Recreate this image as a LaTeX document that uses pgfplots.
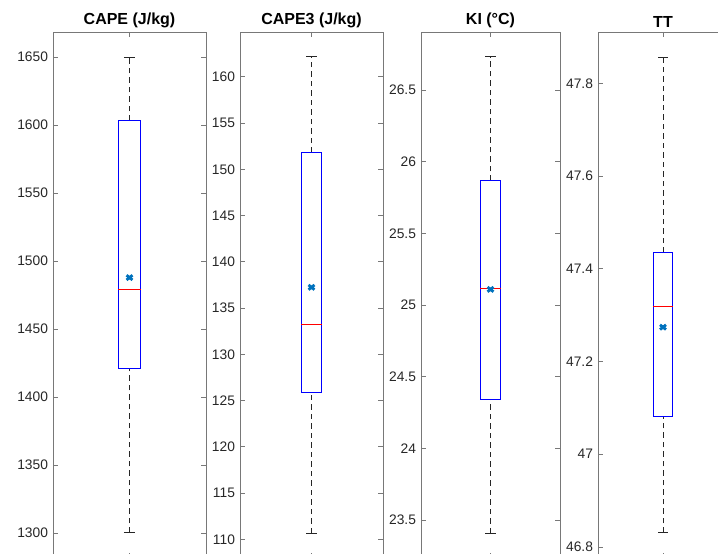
\documentclass[border=0pt]{standalone}
\usepackage{fontspec}
\setmainfont{Liberation Sans}
\usepackage{pgfplots}
\pgfplotsset{compat=1.18}
\definecolor{meanblue}{RGB}{0,114,189}
\definecolor{axgray}{RGB}{120,120,120}
\definecolor{txt}{RGB}{38,38,38}
\pgfplotsset{
  mybox/.style={
    scale only axis,
    anchor=south west,
    height=526pt,
    xmin=0.5, xmax=1.5,
    xtick={1}, xticklabels={},
    tick align=inside,
    major tick length=5pt,
    axis line style={axgray, line width=0.8pt},
    tick style={axgray, line width=0.7pt},
    ytick pos=both, xtick pos=both,
    scaled y ticks=false,
    /pgf/number format/assume math mode=true,
    /pgf/number format/1000 sep={},
    /pgf/number format/fixed,
    yticklabel style={font=\fontsize{13.8}{16}\selectfont, text=txt, xshift=-1.5pt},
    title style={font=\fontsize{16}{19}\selectfont\bfseries, text=black, yshift=-5.5pt},
    clip=false,
  },
  whisk/.style={black!85, line width=1pt, dash pattern=on 5.5pt off 4pt},
  cap/.style={black!85, line width=1pt},
  boxs/.style={blue, line width=1pt},
  meds/.style={red, line width=1pt},
  means/.style={only marks, mark=x, mark size=4.2pt, mark options={meanblue, line width=2.8pt, yscale=0.8}},
}
\begin{document}
\begin{tikzpicture}[x=1pt,y=1pt]
\useasboundingbox (0,0) rectangle (718,554);
\clip (0,0) rectangle (718,554);

% CAPE
\begin{axis}[mybox, at={(53pt,-4pt)}, width=153pt,
  ymin=1281.6, ymax=1668.4, ytick={1300,1350,1400,1450,1500,1550,1600,1650},
  title={CAPE (J/kg)}]
\addplot[whisk] coordinates {(1,1603) (1,1650)};
\addplot[whisk] coordinates {(1,1300) (1,1421.3)};
\addplot[cap] coordinates {(0.964,1650) (1.036,1650)};
\addplot[cap] coordinates {(0.964,1300) (1.036,1300)};
\addplot[boxs] coordinates {(0.928,1421.3) (1.072,1421.3) (1.072,1603) (0.928,1603)} -- cycle;
\addplot[meds] coordinates {(0.928,1479.4) (1.072,1479.4)};
\addplot[means] coordinates {(1,1487.8)};
\end{axis}

% CAPE3
\begin{axis}[mybox, at={(240pt,-4pt)}, width=143pt,
  ymin=107.98, ymax=164.84, ytick={110,115,120,125,130,135,140,145,150,155,160},
  title={CAPE3 (J/kg)}]
\addplot[whisk] coordinates {(1,151.79) (1,162.14)};
\addplot[whisk] coordinates {(1,110.68) (1,125.85)};
\addplot[cap] coordinates {(0.963,162.14) (1.037,162.14)};
\addplot[cap] coordinates {(0.963,110.68) (1.037,110.68)};
\addplot[boxs] coordinates {(0.927,125.85) (1.073,125.85) (1.073,151.79) (0.927,151.79)} -- cycle;
\addplot[meds] coordinates {(0.927,133.24) (1.073,133.24)};
\addplot[means] coordinates {(1,137.24)};
\end{axis}

% KI
\begin{axis}[mybox, at={(421pt,-4pt)}, width=139pt,
  ymin=23.236, ymax=26.904, ytick={23.5,24,24.5,25,25.5,26,26.5},
  title={KI (°C)}]
\addplot[whisk] coordinates {(1,25.865) (1,26.73)};
\addplot[whisk] coordinates {(1,23.41) (1,24.343)};
\addplot[cap] coordinates {(0.962,26.73) (1.038,26.73)};
\addplot[cap] coordinates {(0.962,23.41) (1.038,23.41)};
\addplot[boxs] coordinates {(0.9245,24.343) (1.0755,24.343) (1.0755,25.865) (0.9245,25.865)} -- cycle;
\addplot[meds] coordinates {(0.9245,25.116) (1.0755,25.116)};
\addplot[means] coordinates {(1,25.109)};
\end{axis}

% TT
\begin{axis}[mybox, at={(598pt,-4pt)}, width=130pt,
  ymin=46.776, ymax=47.911, ytick={46.8,47,47.2,47.4,47.6,47.8},
  title={TT}]
\addplot[whisk] coordinates {(1,47.435) (1,47.857)};
\addplot[whisk] coordinates {(1,46.83) (1,47.081)};
\addplot[cap] coordinates {(0.9625,47.857) (1.0375,47.857)};
\addplot[cap] coordinates {(0.9625,46.83) (1.0375,46.83)};
\addplot[boxs] coordinates {(0.925,47.081) (1.075,47.081) (1.075,47.435) (0.925,47.435)} -- cycle;
\addplot[meds] coordinates {(0.925,47.319) (1.075,47.319)};
\addplot[means] coordinates {(1,47.274)};
\end{axis}
\end{tikzpicture}
\end{document}
